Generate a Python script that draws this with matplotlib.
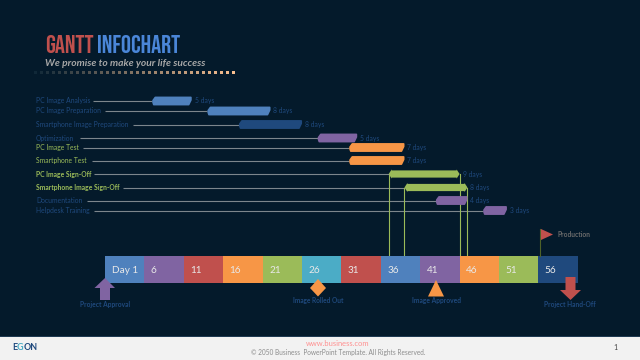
# plot.py - gantt infochart

import numpy as np
import matplotlib
matplotlib.use('Agg')
import matplotlib.pyplot as plt
import matplotlib.font_manager as fm
from matplotlib.patches import Polygon, Rectangle
from matplotlib.colors import to_rgb

tasks = ['PC Image Analysis', 'PC Image Preparation', 'Smartphone Image Preparation',
         'Optimization', 'PC Image Test', 'Smartphone Test', 'PC Image Sign-Off',
         'Smartphone Image Sign-Off', 'Documentation', 'Helpdesk Training']
start_day = [7, 14, 18, 28, 32, 32, 37, 39, 43, 49]
duration = [5, 8, 8, 5, 7, 7, 9, 8, 4, 3]

day_ticks = [1, 6, 11, 16, 21, 26, 31, 36, 41, 46, 51, 56]
day_labels = ['Day 1', '6', '11', '16', '21', '26', '31', '36', '41', '46', '51', '56']

BG = '#041a2b'
BLUE = '#4f81bd'
NAVY = '#1f497d'
PURPLE = '#8064a2'
RED = '#c0504d'
ORANGE = '#f79646'
GREEN = '#9bbb59'
TEAL = '#4bacc6'
LINE = '#7d868c'

bar_colors = [BLUE, BLUE, NAVY, PURPLE, ORANGE, ORANGE, GREEN, GREEN, PURPLE, PURPLE]
label_colors = [NAVY, NAVY, NAVY, NAVY, GREEN, GREEN, GREEN, GREEN, NAVY, NAVY]
label_bold = [False, False, False, False, False, False, True, True, False, False]
cell_colors = [BLUE, PURPLE, RED, ORANGE, GREEN, TEAL, RED, BLUE, PURPLE, ORANGE, GREEN, NAVY]

row_y = [101, 111, 124.5, 138, 147.5, 160.5, 174, 187.5, 200.5, 210.5]
line_x0 = [93, 105, 133, 80, 83, 92, 94, 123, 87, 94]

have = {f.name for f in fm.fontManager.ttflist}
title_font = next((n for n in ['Bebas Neue', 'Oswald', 'Barlow Condensed', 'Barlow Semi Condensed'] if n in have),
                  'DejaVu Sans')
plt.rcParams['font.family'] = ['Lato', 'DejaVu Sans']

fig = plt.figure(figsize=(6.4, 3.6), dpi=100, facecolor=BG)
ax = fig.add_axes([0, 0, 1, 1])
# x axis in days, y axis in pixels from the top
px = 7.88
ax.set_xlim(1 - 105 / px, 1 + 535 / px)
ax.set_ylim(360, 0)
ax.axis('off')


def xp(p):
    return 1 + (p - 105) / px


# title
ax.text(xp(45), 53, 'GANTT', color=RED, fontsize=18, family=title_font, va='baseline')
ax.text(xp(97), 53, 'INFOCHART', color='#4a86d8', fontsize=18, family=title_font, va='baseline')
ax.text(xp(45), 66, 'We promise to make your life success', color='#a6a6a6', fontsize=7.4,
        style='italic', weight='bold', va='baseline')
dots = np.arange(35, 235, 6.02)
for i, d in enumerate(dots):
    t = i / (len(dots) - 1)
    c = (1 - t) * np.array(to_rgb('#102838')) + t * np.array(to_rgb('#fac090'))
    ax.add_patch(Rectangle((xp(d - 1.5), 70.5), 3 / px, 3, color=c, lw=0))

# task rows
for i in range(len(tasks)):
    y = row_y[i]
    ax.text(xp(36), y, tasks[i], color=label_colors[i], fontsize=4.9, va='center',
            weight='bold' if label_bold[i] else 'normal')
    x0 = start_day[i]
    x1 = start_day[i] + duration[i]
    ax.plot([xp(line_x0[i]), x0], [y, y], color=LINE, lw=0.8, solid_capstyle='butt', zorder=1)
    c = 3 / px
    h = 3.6
    if bar_colors[i] == GREEN:
        # double headed arrow shape
        pts = [(x0, y), (x0 + c, y - 4.6), (x0 + c, y - 3.6), (x1 - c, y - 3.6), (x1 - c, y - 4.6), (x1, y),
               (x1 - c, y + 4.6), (x1 - c, y + 3.6), (x0 + c, y + 3.6), (x0 + c, y + 4.6)]
        ax.add_patch(Polygon(pts, closed=True, facecolor=GREEN, edgecolor='none', zorder=3))
    else:
        pts = [(x0 + 0.1, y - 0.5), (x0 + c, y - h), (x1 - 0.1, y - h), (x1 - 0.1, y - 1), (x1 - c, y + h),
               (x0 + c / 2, y + h), (x0 + 0.1, y + 1.5)]
        ax.add_patch(Polygon(pts, closed=True, facecolor=bar_colors[i], edgecolor=bar_colors[i], lw=1.2,
                             joinstyle='round', zorder=3))
    ax.text(x1 + 3 / px, y, '%d days' % duration[i], color=NAVY, fontsize=4.9, va='center')

# drop lines from sign-off bars to the day strip
for i in [6, 7]:
    for d in [start_day[i], start_day[i] + duration[i]]:
        ax.plot([d, d], [row_y[i], 256], color=GREEN, lw=0.8, zorder=2)

# day strip
for d, lab, col in zip(day_ticks, day_labels, cell_colors):
    ax.add_patch(Rectangle((d, 256), 5, 27, facecolor=col, edgecolor='none', zorder=2))
    ax.text(d + 6.5 / px, 270.5, lab, color='#e8e8e8', fontsize=7.2, va='center', zorder=4)

# milestones
ax.add_patch(Polygon([(xp(105), 278), (xp(115), 288), (xp(110), 288), (xp(110), 300),
                      (xp(100), 300), (xp(100), 288), (xp(94.5), 288)],
                     closed=True, facecolor=PURPLE, edgecolor='none', zorder=5))
ax.text(xp(105), 305, 'Project Approval', color=NAVY, fontsize=4.8, weight='bold', ha='center', va='center')

ax.add_patch(Polygon([(xp(318), 279), (xp(326), 288), (xp(318), 296.5), (xp(310), 288)],
                     closed=True, facecolor=ORANGE, edgecolor='none', zorder=5))
ax.text(xp(318), 301, 'Image Rolled Out', color=NAVY, fontsize=4.7, weight='bold', ha='center', va='center')

ax.add_patch(Polygon([(xp(436), 280), (xp(444), 296.5), (xp(428), 296.5)],
                     closed=True, facecolor=ORANGE, edgecolor='none', zorder=5))
ax.text(xp(436), 301, 'Image Approved', color=NAVY, fontsize=4.8, weight='bold', ha='center', va='center')

ax.add_patch(Polygon([(xp(565.5), 277), (xp(575.5), 277), (xp(575.5), 290), (xp(581), 290), (xp(570.5), 300),
                      (xp(560), 290), (xp(565.5), 290)],
                     closed=True, facecolor=RED, edgecolor='none', zorder=5))
ax.text(xp(570), 305, 'Project Hand-Off', color=NAVY, fontsize=4.8, weight='bold', ha='center', va='center')

# production flag
ax.plot([xp(539.5), xp(539.5)], [229, 256], color='#4f6228', lw=0.8, zorder=3)
ax.add_patch(Polygon([(xp(541), 229), (xp(553), 234.5), (xp(541), 240)],
                     closed=True, facecolor=RED, edgecolor='none', zorder=5))
ax.text(xp(557), 234.5, 'Production', color='#6b6b6b', fontsize=4.8, weight='bold', va='center')

# footer
ax.add_patch(Rectangle((xp(0), 336), 640 / px, 24, facecolor='#f2f2f2', edgecolor='none', zorder=6))
ax.add_patch(Rectangle((xp(0), 335.5), 640 / px, 1, facecolor='#1f3a52', edgecolor='none', zorder=6))
ax.text(xp(12), 347, 'E', color=NAVY, fontsize=6.4, weight='bold', va='center', zorder=7)
ax.text(xp(17), 347, 'G', color=TEAL, fontsize=6.4, weight='bold', va='center', zorder=7)
ax.text(xp(24), 347, 'ON', color=NAVY, fontsize=6.4, weight='bold', va='center', zorder=7)
ax.text(xp(338), 344, 'www.business.com', color='#ff8f8f', fontsize=5.4, ha='center', va='center', zorder=7)
ax.text(xp(338), 352.5, '\u00a9 2050 Business  PowerPoint Template. All Rights Reserved.', color='#8c8c8c',
        fontsize=4.7, ha='center', va='center', zorder=7)
ax.text(xp(615), 347, '1', color='#404040', fontsize=5, ha='center', va='center', zorder=7)

plt.savefig('out.png', dpi=100, facecolor=BG)
